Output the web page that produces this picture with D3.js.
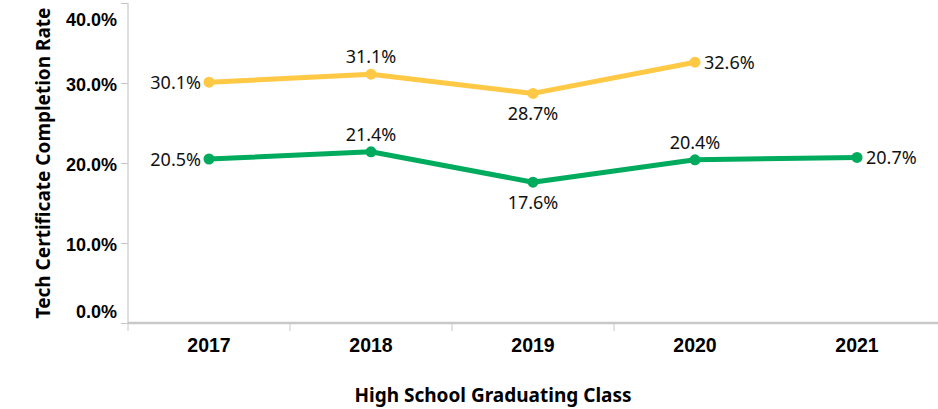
<!DOCTYPE html>
<html>
<head>
<meta charset="utf-8">
<script src="https://cdn.jsdelivr.net/npm/d3@7"></script>
<style>
  body { margin: 0; background: #fff; }
  svg { display: block; font-family: "Noto Sans", sans-serif; }
</style>
</head>
<body>
<script>
// data
var years = ['2017', '2018', '2019', '2020', '2021'];
var yellowVals = [30.1, 31.1, 28.7, 32.6, null];
var greenVals = [20.5, 21.4, 17.6, 20.4, 20.7];
var yellowPos = ['left', 'above', 'below', 'right', null];
var greenPos = ['left', 'above', 'below', 'above', 'right'];
var yTicks = [0, 10, 20, 30, 40];

var W = 938, H = 409;
var margin = {top: 3, right: 0, bottom: 86, left: 128};
var w = W - margin.left - margin.right;
var h = H - margin.top - margin.bottom;

var svg = d3.select('body').append('svg')
  .attr('width', W)
  .attr('height', H);

var x = d3.scaleBand().domain(years).range([0, w]);
var y = d3.scaleLinear().domain([0, 40]).range([h, 0]);

var g = svg.append('g')
  .attr('transform', 'translate(' + margin.left + ',' + margin.top + ')');

// y axis
var yAxis = g.append('g')
  .call(d3.axisLeft(y).tickValues(yTicks).tickSize(7).tickFormat(d => d3.format('.1f')(d) + '%'));
yAxis.select('.domain').attr('stroke', '#c8c8c8').attr('stroke-width', 1.2)
  .attr('d', 'M0,0V' + h);
yAxis.selectAll('.tick line').attr('stroke', '#c8c8c8').attr('stroke-width', 1);
yAxis.selectAll('.tick text')
  .attr('x', -11)
  .attr('dy', null)
  .attr('y', d => d == 40 ? 22 : (d == 0 ? -6 : 7))
  .style('font-size', '18px')
  .style('font-weight', 'bold')
  .attr('fill', '#000');

// x axis
var xAxis = g.append('g')
  .attr('transform', 'translate(0,' + h + ')')
  .call(d3.axisBottom(x).tickSize(0).tickPadding(0));
xAxis.select('.domain').attr('stroke', '#c8c8c8').attr('stroke-width', 2.5)
  .attr('d', 'M0,0H' + w);
xAxis.selectAll('.tick text')
  .attr('dy', null)
  .attr('y', 29)
  .style('font-size', '19.5px')
  .style('font-weight', 'bold')
  .attr('fill', '#000');
// separators between the year bands
xAxis.selectAll('.sep')
  .data(years.slice(0, 4))
  .enter()
  .append('line')
  .attr('x1', d => x(d))
  .attr('x2', d => x(d))
  .attr('y1', 0)
  .attr('y2', 8)
  .attr('stroke', '#c8c8c8')
  .attr('stroke-width', 1);

// axis titles
svg.append('text')
  .attr('transform', 'translate(50,163) rotate(-90)')
  .attr('text-anchor', 'middle')
  .style('font-size', '19px')
  .style('font-weight', 'bold')
  .text('Tech Certificate Completion Rate');
svg.append('text')
  .attr('x', 493)
  .attr('y', 402)
  .attr('text-anchor', 'middle')
  .style('font-size', '19px')
  .style('font-weight', 'bold')
  .text('High School Graduating Class');

// series
var series = [
  {vals: yellowVals, pos: yellowPos, color: '#ffc845'},
  {vals: greenVals, pos: greenPos, color: '#00ab5e'}
];

var line = d3.line()
  .defined(d => d.v != null)
  .x(d => x(d.year) + x.bandwidth() / 2)
  .y(d => y(d.v));

series.forEach(function (s) {
  var pts = years.map((yr, i) => ({year: yr, v: s.vals[i], pos: s.pos[i]}));
  var valid = pts.filter(d => d.v != null);
  g.append('path')
    .datum(pts)
    .attr('d', line)
    .attr('fill', 'none')
    .attr('stroke', s.color)
    .attr('stroke-width', 5)
    .attr('stroke-linejoin', 'round');
  g.selectAll(null)
    .data(valid)
    .enter()
    .append('circle')
    .attr('cx', d => x(d.year) + x.bandwidth() / 2)
    .attr('cy', d => y(d.v))
    .attr('r', 5.5)
    .attr('fill', s.color);
  g.selectAll(null)
    .data(valid)
    .enter()
    .append('text')
    .attr('x', function (d) {
      var cx = x(d.year) + x.bandwidth() / 2;
      if (d.pos == 'left') return cx - 8;
      if (d.pos == 'right') return cx + 9;
      return cx;
    })
    .attr('y', function (d) {
      var cy = y(d.v);
      if (d.pos == 'above') return cy - 11;
      if (d.pos == 'below') return cy + 27;
      return cy + 7;
    })
    .attr('text-anchor', d => d.pos == 'left' ? 'end' : (d.pos == 'right' ? 'start' : 'middle'))
    .style('font-size', '18px')
    .attr('fill', '#111')
    .text(d => d3.format('.1f')(d.v) + '%');
});
</script>
</body>
</html>
